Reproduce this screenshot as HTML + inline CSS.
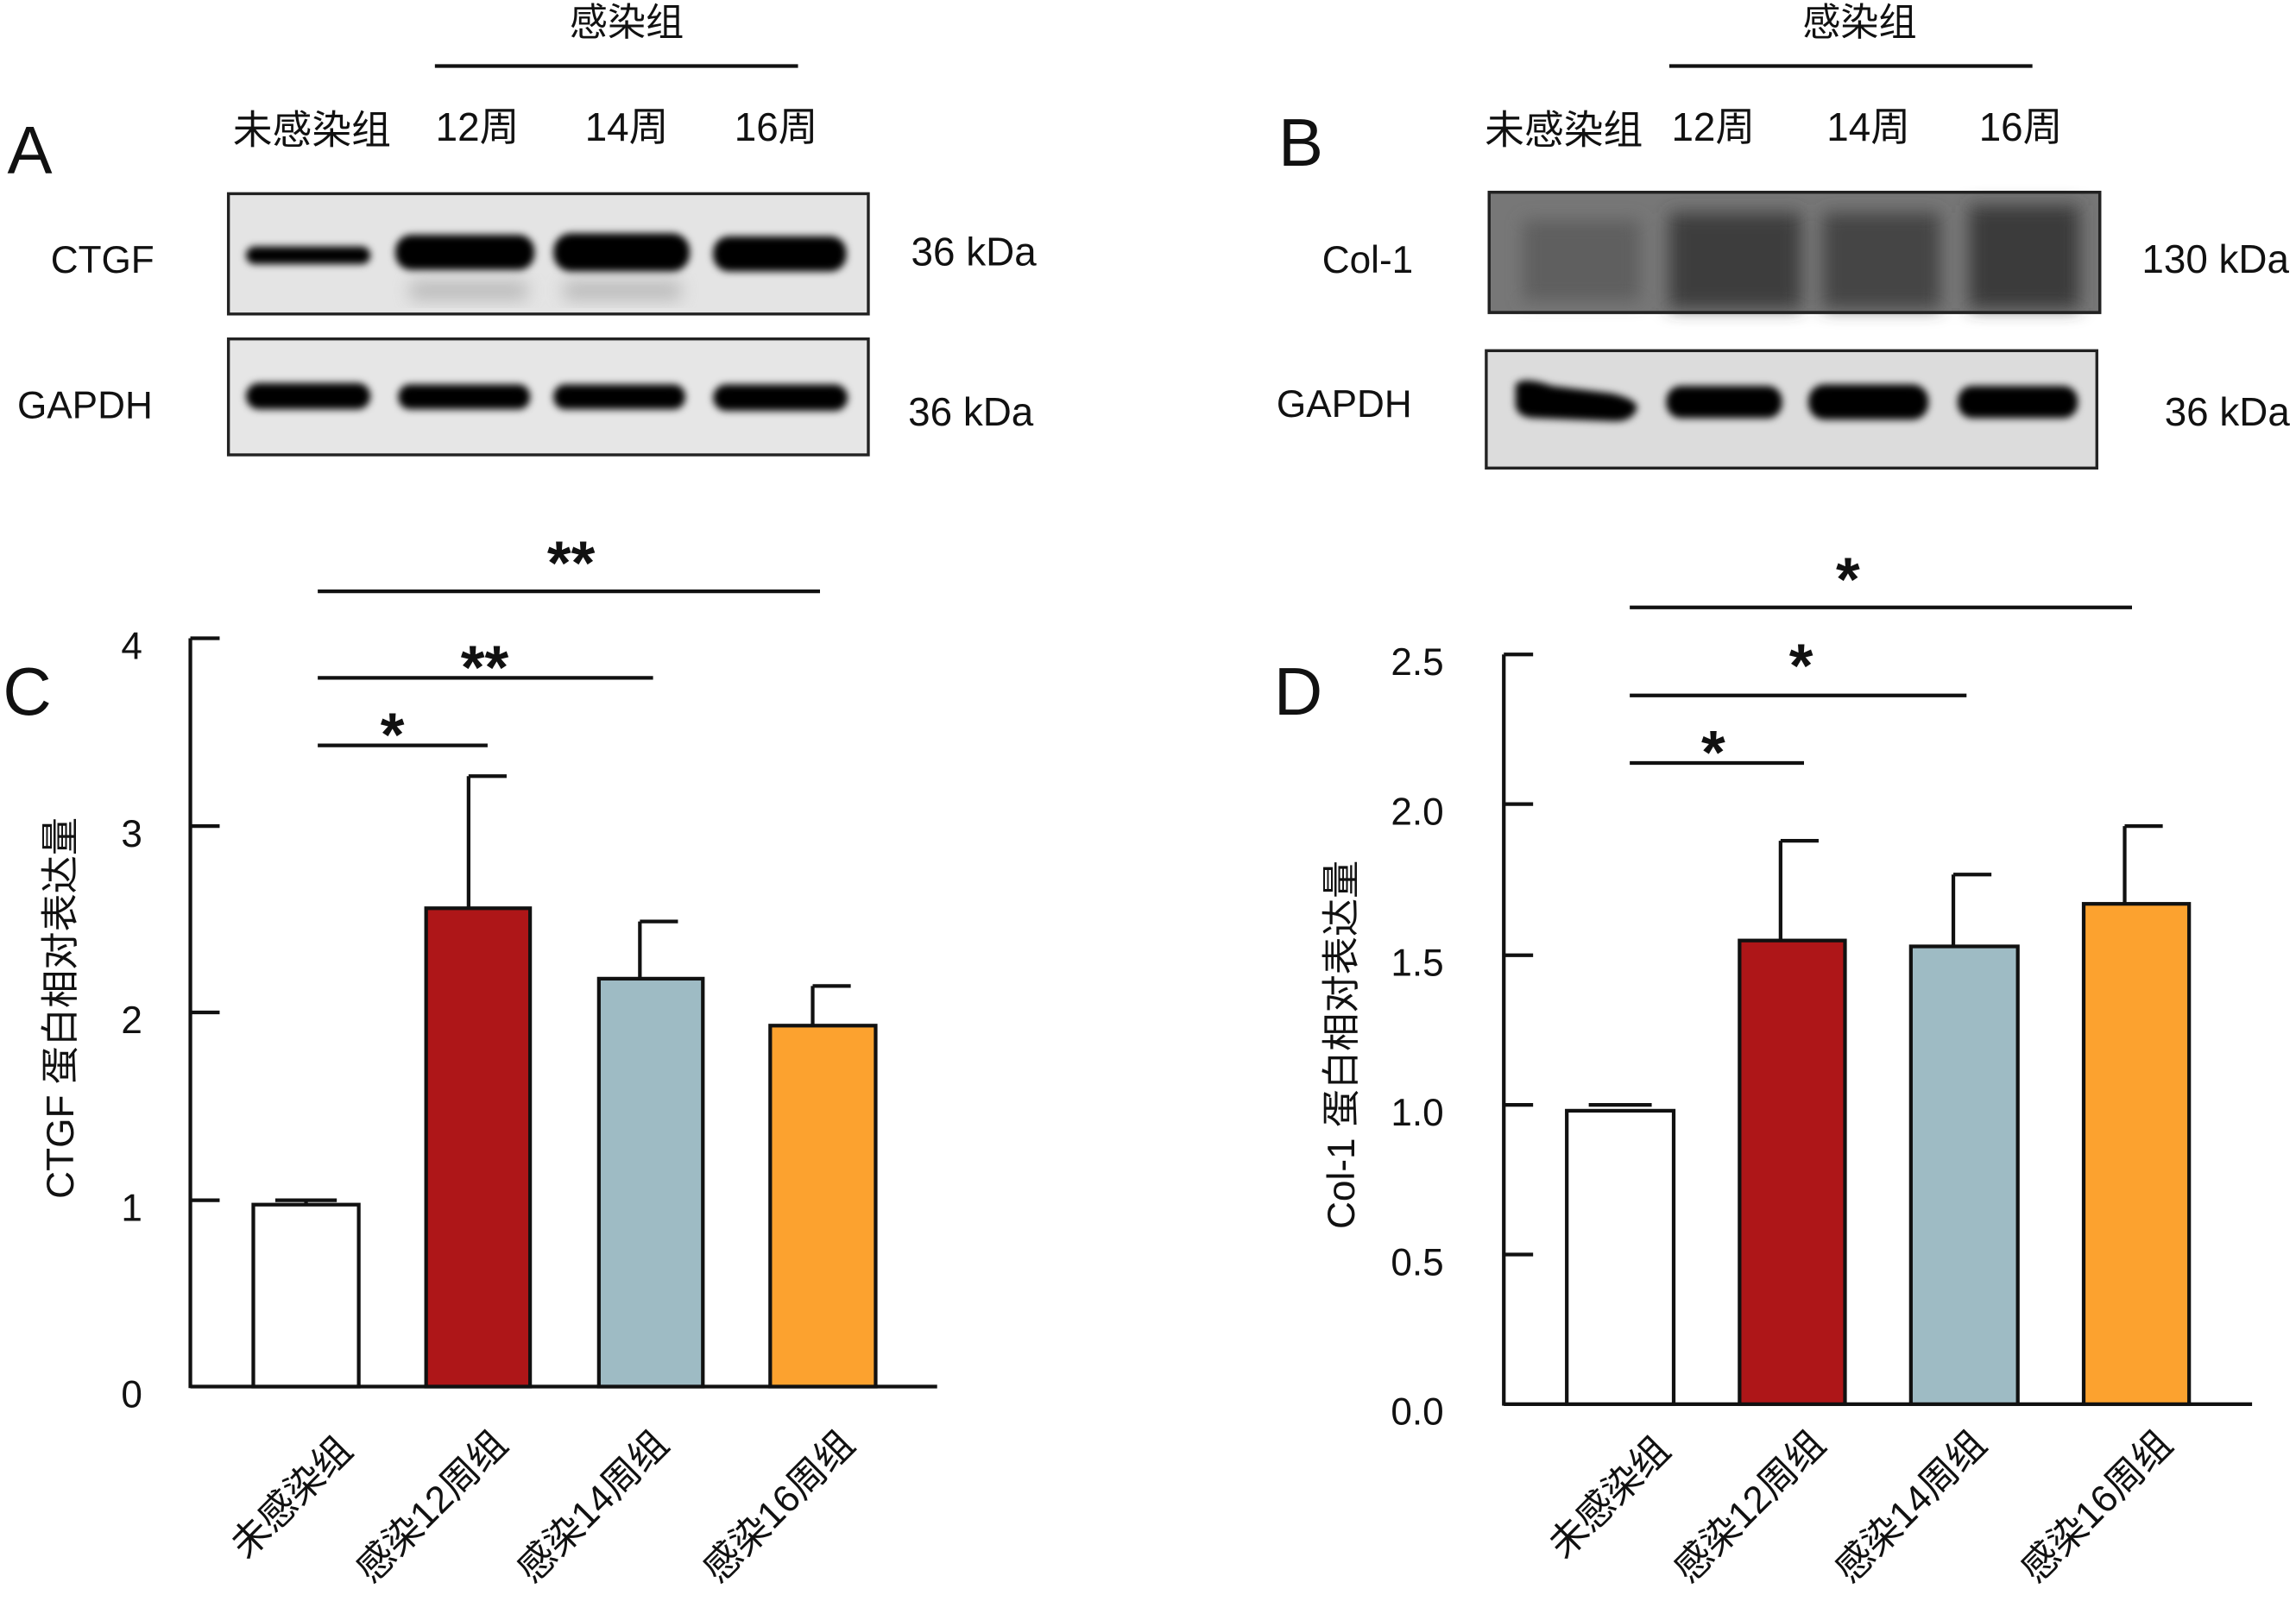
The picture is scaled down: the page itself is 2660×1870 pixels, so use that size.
<!DOCTYPE html>
<html><head><meta charset="utf-8"><style>
html,body{margin:0;padding:0;background:#fff}
svg{display:block}
text{font-family:"Liberation Sans","Noto Sans CJK SC",sans-serif;fill:#111}
</style></head><body>
<svg width="2660" height="1870" viewBox="0 0 1568 1100" preserveAspectRatio="none" xmlns="http://www.w3.org/2000/svg">
<defs>
<filter id="b1" x="-20%" y="-50%" width="140%" height="200%"><feGaussianBlur stdDeviation="2.5"/></filter>
<filter id="b2" x="-20%" y="-50%" width="140%" height="200%"><feGaussianBlur stdDeviation="6"/></filter>
</defs>

<!-- Panel A -->
<text x="428" y="24" font-size="26" text-anchor="middle">感染组</text>
<line x1="297" y1="45" x2="545" y2="45" stroke="#111" stroke-width="2.5"/>
<text x="213" y="98" font-size="27" text-anchor="middle">未感染组</text>
<text x="326" y="96" font-size="27" text-anchor="middle">12周</text>
<text x="428" y="96" font-size="27" text-anchor="middle">14周</text>
<text x="530" y="96" font-size="27" text-anchor="middle">16周</text>
<text x="5" y="118" font-size="46">A</text>
<rect x="156" y="132" width="437" height="82" fill="#e4e4e4" stroke="#222" stroke-width="2"/>
<g filter="url(#b1)" fill="#050505">
<rect x="168" y="168" width="85" height="12" rx="6"/>
<rect x="270" y="160" width="95" height="24" rx="11"/>
<rect x="378" y="159" width="93" height="26" rx="12"/>
<rect x="487" y="161" width="91" height="24" rx="11"/>
</g>
<g filter="url(#b2)" fill="#999" opacity="0.6"><rect x="280" y="192" width="80" height="12"/><rect x="385" y="192" width="80" height="12"/></g>
<text x="70" y="186" font-size="26" text-anchor="middle">CTGF</text>
<text x="665" y="181" font-size="27" text-anchor="middle">36 kDa</text>
<rect x="156" y="231" width="437" height="79" fill="#e6e6e6" stroke="#222" stroke-width="2"/>
<g filter="url(#b1)" fill="#050505">
<rect x="168" y="261" width="85" height="18" rx="9"/>
<rect x="272" y="262" width="90" height="17" rx="8"/>
<rect x="378" y="262" width="90" height="17" rx="8"/>
<rect x="487" y="262" width="92" height="18" rx="9"/>
</g>
<text x="58" y="285" font-size="26" text-anchor="middle">GAPDH</text>
<text x="663" y="290" font-size="27" text-anchor="middle">36 kDa</text>

<!-- Panel B -->
<text x="1270" y="24" font-size="26" text-anchor="middle">感染组</text>
<line x1="1140" y1="45" x2="1388" y2="45" stroke="#111" stroke-width="2.5"/>
<text x="1068" y="98" font-size="27" text-anchor="middle">未感染组</text>
<text x="1170" y="96" font-size="27" text-anchor="middle">12周</text>
<text x="1276" y="96" font-size="27" text-anchor="middle">14周</text>
<text x="1380" y="96" font-size="27" text-anchor="middle">16周</text>
<text x="873" y="113" font-size="46">B</text>
<rect x="1017" y="131" width="417" height="82" fill="#777" stroke="#222" stroke-width="2"/>
<g filter="url(#b2)">
<rect x="1040" y="150" width="80" height="55" fill="#5e5e5e"/>
<rect x="1140" y="145" width="90" height="65" fill="#3e3e3e"/>
<rect x="1245" y="145" width="80" height="65" fill="#454545"/>
<rect x="1345" y="140" width="75" height="70" fill="#3a3a3a"/>
</g>
<rect x="1017" y="131" width="417" height="82" fill="none" stroke="#222" stroke-width="2"/>
<text x="934" y="186" font-size="26" text-anchor="middle">Col-1</text>
<text x="1513" y="186" font-size="27" text-anchor="middle">130 kDa</text>
<rect x="1015" y="239" width="417" height="80" fill="#dcdcdc" stroke="#222" stroke-width="2"/>
<g filter="url(#b1)" fill="#020202">
<path d="M1035 262 Q1040 256 1060 263 L1100 268 Q1118 272 1118 278 Q1115 288 1100 287 L1050 285 Q1035 285 1035 275 Z"/>
<rect x="1138" y="263" width="79" height="22" rx="10"/>
<rect x="1235" y="262" width="82" height="24" rx="11"/>
<rect x="1337" y="263" width="82" height="22" rx="10"/>
</g>
<text x="918" y="284" font-size="26" text-anchor="middle">GAPDH</text>
<text x="1521" y="290" font-size="27" text-anchor="middle">36 kDa</text>

<!-- Panel C -->
<text x="2" y="487" font-size="46">C</text>
<g stroke="#111" stroke-width="2.5" fill="none">
<line x1="130" y1="435" x2="130" y2="946"/>
<line x1="130" y1="945" x2="640" y2="945"/>
<line x1="130" y1="435" x2="150" y2="435"/>
<line x1="130" y1="563" x2="150" y2="563"/>
<line x1="130" y1="690" x2="150" y2="690"/>
<line x1="130" y1="818" x2="150" y2="818"/>
</g>
<g font-size="26" text-anchor="middle">
<text x="90" y="449">4</text><text x="90" y="577">3</text><text x="90" y="704">2</text><text x="90" y="832">1</text><text x="90" y="959">0</text>
</g>
<g stroke="#111" stroke-width="2.5">
<rect x="173" y="821" width="72" height="124" fill="#fff"/>
<rect x="291" y="619" width="71" height="326" fill="#ae1618"/>
<rect x="409" y="667" width="71" height="278" fill="#9ebbc4"/>
<rect x="526" y="699" width="72" height="246" fill="#fca22f"/>
<line x1="209" y1="821" x2="209" y2="818"/><line x1="188" y1="818" x2="230" y2="818"/>
<line x1="320" y1="619" x2="320" y2="529"/><line x1="320" y1="529" x2="346" y2="529"/>
<line x1="437" y1="667" x2="437" y2="628"/><line x1="437" y1="628" x2="463" y2="628"/>
<line x1="555" y1="699" x2="555" y2="672"/><line x1="555" y1="672" x2="581" y2="672"/>
<line x1="217" y1="508" x2="333" y2="508"/>
<line x1="217" y1="462" x2="446" y2="462"/>
<line x1="217" y1="403" x2="560" y2="403"/>
</g>
<g font-size="42" font-weight="bold" text-anchor="middle">
<text x="268" y="515">*</text><text x="331" y="469">**</text><text x="390" y="398">**</text>
</g>
<text transform="translate(50,687) rotate(-90)" font-size="26" text-anchor="middle">CTGF 蛋白相对表达量</text>
<g font-size="26" text-anchor="end">
<text transform="translate(242,990) rotate(-45)">未感染组</text>
<text transform="translate(348,986) rotate(-45)">感染12周组</text>
<text transform="translate(458,986) rotate(-45)">感染14周组</text>
<text transform="translate(585,986) rotate(-45)">感染16周组</text>
</g>

<!-- Panel D -->
<text x="870" y="487" font-size="46">D</text>
<g stroke="#111" stroke-width="2.5" fill="none">
<line x1="1027" y1="446" x2="1027" y2="958"/>
<line x1="1027" y1="957" x2="1538" y2="957"/>
<line x1="1027" y1="446" x2="1047" y2="446"/>
<line x1="1027" y1="548" x2="1047" y2="548"/>
<line x1="1027" y1="651" x2="1047" y2="651"/>
<line x1="1027" y1="753" x2="1047" y2="753"/>
<line x1="1027" y1="855" x2="1047" y2="855"/>
</g>
<g font-size="26" text-anchor="end">
<text x="986" y="460">2.5</text><text x="986" y="562">2.0</text><text x="986" y="665">1.5</text><text x="986" y="767">1.0</text><text x="986" y="869">0.5</text><text x="986" y="971">0.0</text>
</g>
<g stroke="#111" stroke-width="2.5">
<rect x="1070" y="757" width="73" height="200" fill="#fff"/>
<rect x="1188" y="641" width="72" height="316" fill="#ae1618"/>
<rect x="1305" y="645" width="73" height="312" fill="#9ebbc4"/>
<rect x="1423" y="616" width="72" height="341" fill="#fca22f"/>
<line x1="1085" y1="753" x2="1128" y2="753"/>
<line x1="1216" y1="641" x2="1216" y2="573"/><line x1="1216" y1="573" x2="1242" y2="573"/>
<line x1="1334" y1="645" x2="1334" y2="596"/><line x1="1334" y1="596" x2="1360" y2="596"/>
<line x1="1451" y1="616" x2="1451" y2="563"/><line x1="1451" y1="563" x2="1477" y2="563"/>
<line x1="1113" y1="520" x2="1232" y2="520"/>
<line x1="1113" y1="474" x2="1343" y2="474"/>
<line x1="1113" y1="414" x2="1456" y2="414"/>
</g>
<g font-size="42" font-weight="bold" text-anchor="middle">
<text x="1170" y="527">*</text><text x="1230" y="468">*</text><text x="1262" y="409">*</text>
</g>
<text transform="translate(925,712) rotate(-90)" font-size="26" text-anchor="middle">Col-1 蛋白相对表达量</text>
<g font-size="26" text-anchor="end">
<text transform="translate(1142,990) rotate(-45)">未感染组</text>
<text transform="translate(1248,986) rotate(-45)">感染12周组</text>
<text transform="translate(1358,986) rotate(-45)">感染14周组</text>
<text transform="translate(1485,986) rotate(-45)">感染16周组</text>
</g>
</svg>
</body></html>
